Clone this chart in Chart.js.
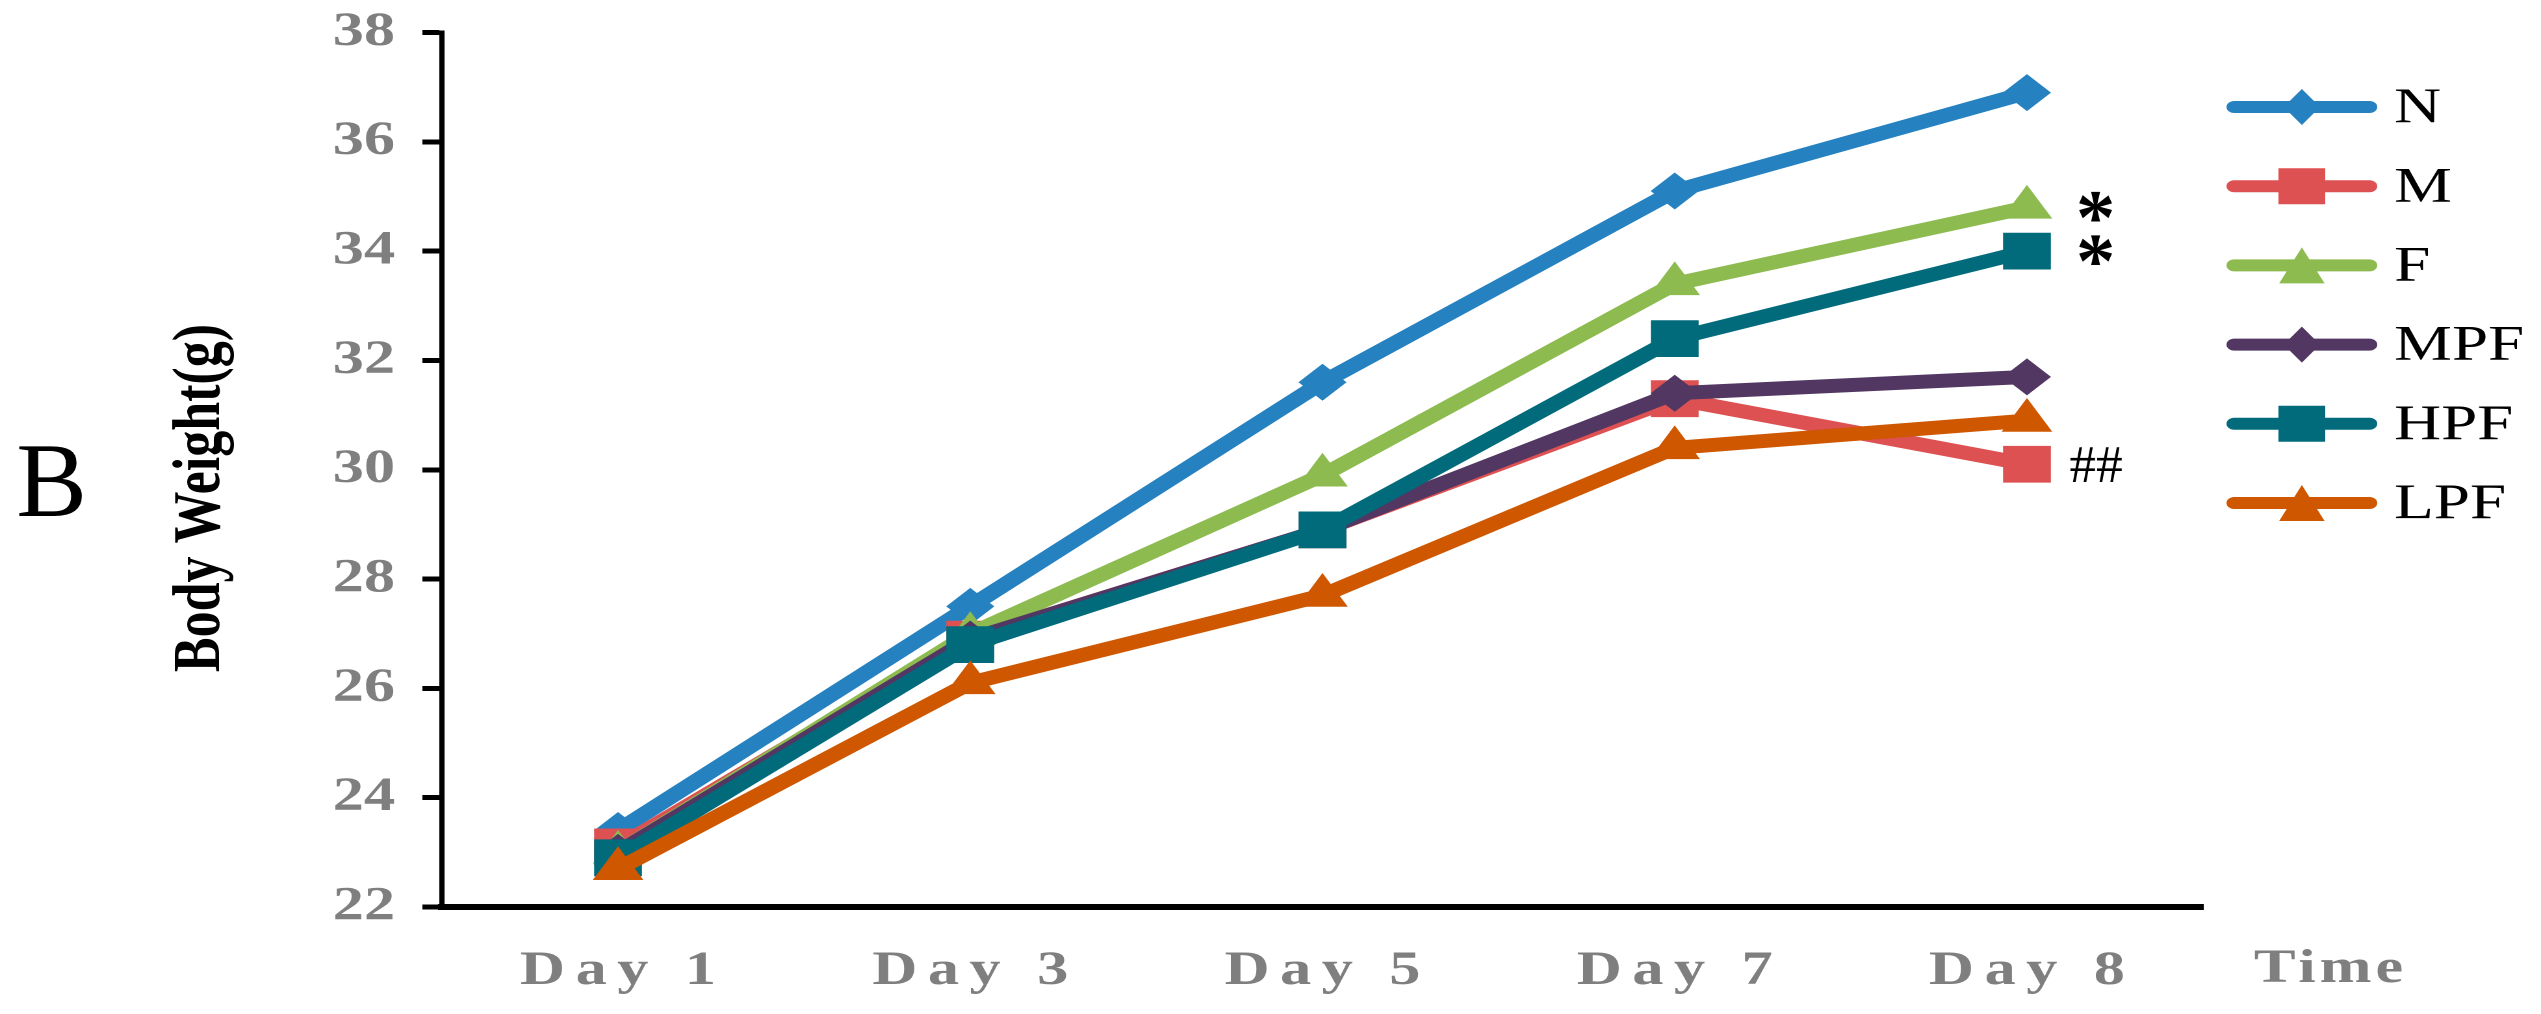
<!DOCTYPE html>
<html>
<head>
<meta charset="utf-8">
<script src="https://cdn.jsdelivr.net/npm/chart.js@4.4.1/dist/chart.umd.min.js"></script>
<style>
  html, body { margin: 0; padding: 0; background: #fff; }
  #wrap { width: 2541px; height: 1014px; }
</style>
</head>
<body>
<div id="wrap"><canvas id="chart" width="1955" height="1014" style="width:2541px;height:1014px"></canvas></div>
<script>
// the source figure is stretched sideways (~1.3x), so the chart is laid out
// on a narrower canvas and css widens it back to full size
const STRETCH = 2541 / 1955;

const days = ['Day 1', 'Day 3', 'Day 5', 'Day 7', 'Day 8'];
const groups = ['N', 'M', 'F', 'MPF', 'HPF', 'LPF'];

const weightN   = [23.4, 27.5, 31.6, 35.1, 36.9];
const weightM   = [23.1, 26.9, 28.9, 31.3, 30.1];
const weightF   = [23.0, 27.0, 29.9, 33.4, 34.8];
const weightMPF = [23.0, 26.9, 28.9, 31.4, 31.7];
const weightHPF = [22.9, 26.8, 28.9, 32.4, 34.0];
const weightLPF = [22.7, 26.1, 27.7, 30.4, 30.9];

const yTicks = [22, 24, 26, 28, 30, 32, 34, 36, 38];

// significance marks shown after the last day
const sigLabels = ['*', '*', '##'];
const sigGroups = ['F', 'HPF', 'M'];

const series = [weightN, weightM, weightF, weightMPF, weightHPF, weightLPF];
const colors = ['#2681c1', '#dd5152', '#8dbb50', '#523763', '#016b7c', '#ce5700'];
const shapes = ['rectRot', 'rect', 'triangle', 'rectRot', 'rect', 'triangle'];
const radius = { rectRot: 18.5, rect: 26, triangle: 22.5 };

const SERIF = '"Liberation Serif", "Times New Roman", serif';
const GREY = '#7f7f7f';

const datasets = groups.map((g, i) => ({
  label: g,
  data: series[i],
  borderColor: colors[i],
  backgroundColor: colors[i],
  borderWidth: 14,
  tension: 0,
  pointStyle: shapes[i],
  pointRadius: radius[shapes[i]],
  pointHoverRadius: radius[shapes[i]],
  pointBackgroundColor: colors[i],
  pointBorderWidth: 0,
  order: groups.length - i   // later groups sit on top
}));

// draws text centred on its ink box; squeeze undoes the sideways stretch
function inkText(ctx, text, cx, cy, inkHeight, style, color, squeeze) {
  ctx.save();
  ctx.font = style + ' 100px ' + SERIF;
  let m = ctx.measureText(text);
  const size = 100 * inkHeight / (m.actualBoundingBoxAscent + m.actualBoundingBoxDescent);
  ctx.font = style + ' ' + size.toFixed(1) + 'px ' + SERIF;
  m = ctx.measureText(text);
  const w = m.actualBoundingBoxLeft + m.actualBoundingBoxRight;
  const h = m.actualBoundingBoxAscent + m.actualBoundingBoxDescent;
  ctx.fillStyle = color;
  ctx.textAlign = 'left';
  ctx.textBaseline = 'alphabetic';
  ctx.translate(cx, cy);
  if (squeeze) ctx.scale(1 / STRETCH, 1);
  ctx.fillText(text, -w / 2 + m.actualBoundingBoxLeft, h / 2 - m.actualBoundingBoxDescent);
  ctx.restore();
}

function legendMarker(ctx, shape, x, y) {
  ctx.beginPath();
  if (shape === 'rectRot') {
    ctx.moveTo(x - 14, y); ctx.lineTo(x, y - 18); ctx.lineTo(x + 14, y); ctx.lineTo(x, y + 18);
  } else if (shape === 'rect') {
    ctx.rect(x - 18, y - 18, 36, 36);
  } else {
    ctx.moveTo(x, y - 18); ctx.lineTo(x + 17.5, y + 18); ctx.lineTo(x - 17.5, y + 18);
  }
  ctx.closePath();
  ctx.fill();
}

const decor = {
  id: 'decor',
  afterDraw(chart) {
    const ctx = chart.ctx;
    const area = chart.chartArea;
    const xs = chart.scales.x;
    const ys = chart.scales.y;

    // panel letter
    inkText(ctx, 'B', 39, 481, 70, 'normal', '#000', true);

    // y title
    ctx.save();
    ctx.translate(155, 498);
    ctx.rotate(-Math.PI / 2);
    ctx.font = 'bold 52px ' + SERIF;
    ctx.fillStyle = '#000';
    ctx.textAlign = 'center';
    ctx.textBaseline = 'middle';
    ctx.fillText('Body Weight(g)', 0, 0);
    ctx.restore();

    // "Time" after the axis
    ctx.save();
    ctx.font = 'bold 48px ' + SERIF;
    if ('letterSpacing' in ctx) ctx.letterSpacing = '3px';
    ctx.fillStyle = GREY;
    ctx.textAlign = 'center';
    ctx.textBaseline = 'alphabetic';
    ctx.fillText('Time', area.right + 98, 982);
    ctx.restore();

    // significance marks
    const last = days.length - 1;
    sigLabels.forEach((txt, k) => {
      const gi = groups.indexOf(sigGroups[k]);
      const px = xs.getPixelForValue(last) + 53;
      const py = ys.getPixelForValue(series[gi][last]);
      if (txt === '*') inkText(ctx, txt, px, py, 30, 'bold', '#000', true);
      else inkText(ctx, txt, px, py, 35, 'normal', '#000', true);
    });

    // legend
    const lx = area.right + 18;
    chart.data.datasets.forEach((ds, i) => {
      const y = 107 + i * 79.2;
      ctx.save();
      ctx.strokeStyle = ds.borderColor;
      ctx.fillStyle = ds.borderColor;
      ctx.lineWidth = 12;
      ctx.lineCap = 'round';
      ctx.beginPath();
      ctx.moveTo(lx + 6, y);
      ctx.lineTo(lx + 110, y);
      ctx.stroke();
      legendMarker(ctx, ds.pointStyle, lx + 58, y);
      ctx.font = '50px ' + SERIF;
      ctx.fillStyle = '#000';
      ctx.textAlign = 'left';
      ctx.textBaseline = 'middle';
      ctx.fillText(ds.label, lx + 129, y + 2);
      ctx.restore();
    });
  }
};

new Chart(document.getElementById('chart'), {
  type: 'line',
  data: { labels: days, datasets: datasets },
  options: {
    responsive: false,
    devicePixelRatio: 2,
    animation: false,
    layout: { padding: { left: 0, right: 260, top: 32.5, bottom: 0 } },
    plugins: { legend: { display: false }, tooltip: { enabled: false } },
    scales: {
      x: {
        offset: true,
        afterFit(scale) { scale.height = 107; },
        grid: { display: false, drawTicks: false },
        border: { display: true, color: '#000', width: 6 },
        ticks: {
          color: GREY,
          font: { family: SERIF, size: 48, weight: 'bold' },
          padding: 36,
          maxRotation: 0,
          autoSkip: false,
          callback(v) { return this.getLabelForValue(v).split('').join('\u2006'); }
        }
      },
      y: {
        min: yTicks[0],
        max: yTicks[yTicks.length - 1],
        afterBuildTicks(scale) { scale.ticks = yTicks.map(v => ({ value: v })); },
        afterFit(scale) {
          scale.width = 340;
          scale.paddingTop = 0;
          scale.paddingBottom = 0;
        },
        grid: { drawOnChartArea: false, drawTicks: true, tickLength: 15, lineWidth: 5, color: '#000' },
        border: { display: true, color: '#000', width: 4 },
        ticks: {
          color: GREY,
          font: { family: SERIF, size: 48, weight: 'bold' },
          padding: 21
        }
      }
    }
  },
  plugins: [decor]
});
</script>
</body>
</html>
